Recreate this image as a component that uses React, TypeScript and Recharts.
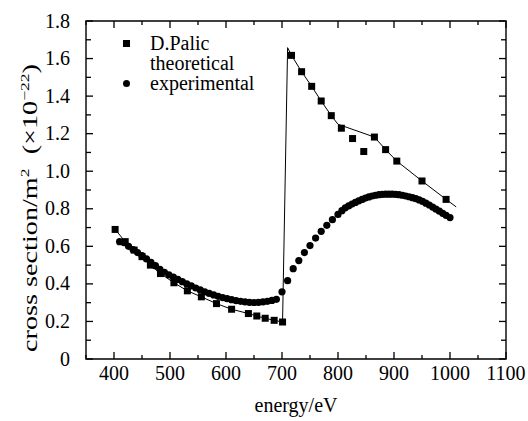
import { Legend, ReferenceArea, Scatter, ScatterChart, XAxis, YAxis } from "recharts";

const FONT = "'Liberation Serif', 'Times New Roman', serif";

// D.Palic theoretical squares (energy in eV, cross section in 1e-22 m^2)
const theoryEnergy = [
  402, 420, 436, 450, 465, 483, 507, 531, 556, 583, 610, 640, 655, 670, 686, 701,
  717, 735, 753, 770, 788, 806, 826, 846, 865, 885, 905, 950, 993,
];
const theoryValue = [
  0.69, 0.625, 0.58, 0.545, 0.5, 0.455, 0.406, 0.363, 0.331, 0.295, 0.265, 0.242, 0.229, 0.217, 0.206, 0.197,
  1.617, 1.53, 1.452, 1.374, 1.296, 1.229, 1.174, 1.105, 1.182, 1.115, 1.054, 0.948, 0.85,
];

// thin line drawn through the theory
const lineEnergy = [
  402, 420, 436, 450, 465, 483, 507, 531, 556, 583, 610, 640, 655, 670, 686, 701,
  710, 717, 735, 753, 770, 788, 800, 865, 885, 905, 950, 993, 1011,
];
const lineValue = [
  0.69, 0.625, 0.58, 0.545, 0.5, 0.455, 0.406, 0.363, 0.331, 0.295, 0.265, 0.242, 0.229, 0.217, 0.206, 0.197,
  1.658, 1.617, 1.53, 1.452, 1.374, 1.296, 1.25, 1.182, 1.115, 1.054, 0.948, 0.85, 0.81,
];

// experimental circles
const expEnergy = [
  410, 418, 426, 434, 442, 450, 458, 466, 474, 482, 490, 498, 506, 514, 522, 530, 538, 546, 554, 562,
  570, 578, 586, 594, 602, 610, 618, 626, 634, 642, 650, 658, 666, 674, 682, 690, 700,
  710, 720, 730, 740, 750, 760, 770, 780, 790, 800, 807, 813, 819, 825, 831, 837, 843, 849, 855,
  861, 867, 873, 879, 885, 891, 897, 903, 909, 915, 921, 927, 933, 939, 945, 951, 957, 963, 969,
  975, 981, 987, 993, 1000,
];
const expValue = [
  0.625, 0.62, 0.6, 0.583, 0.567, 0.55, 0.533, 0.515, 0.497, 0.478, 0.462, 0.448, 0.436, 0.424, 0.412, 0.4,
  0.389, 0.378, 0.368, 0.358, 0.349, 0.341, 0.334, 0.327, 0.321, 0.316, 0.311, 0.307, 0.304, 0.302, 0.301,
  0.302, 0.304, 0.307, 0.312, 0.318, 0.358,
  0.417, 0.481, 0.524, 0.567, 0.604, 0.644, 0.68, 0.712, 0.742, 0.77, 0.79, 0.805, 0.815, 0.825, 0.834,
  0.842, 0.85, 0.857, 0.863, 0.868, 0.872, 0.875, 0.877, 0.878, 0.878, 0.878, 0.877, 0.875, 0.872, 0.868,
  0.864, 0.859, 0.854, 0.847, 0.839, 0.83, 0.82, 0.809, 0.798, 0.787, 0.776, 0.765, 0.753,
];

const xTicks = [350, 400, 450, 500, 550, 600, 650, 700, 750, 800, 850, 900, 950, 1000, 1050, 1100];
const yTicks = [0, 0.1, 0.2, 0.3, 0.4, 0.5, 0.6, 0.7, 0.8, 0.9, 1.0, 1.1, 1.2, 1.3, 1.4, 1.5, 1.6, 1.7, 1.8];

const X_MIN = 350;
const X_MAX = 1100;
const Y_MIN = 0;
const Y_MAX = 1.8;

const toPoints = (xs: number[], ys: number[]) => xs.map((x, i) => ({ x, y: ys[i] }));
const theoryData = toPoints(theoryEnergy, theoryValue);
const lineData = toPoints(lineEnergy, lineValue);
const expData = toPoints(expEnergy, expValue);

const isMajorX = (v: number) => v % 100 === 0;
const isMajorY = (v: number) => Math.round(v * 10) % 2 === 0;

// inward tick marks on all four sides of the box
const frameTicks = [
  ...xTicks.map((t) => ({ x: t, y: Y_MIN, side: "b", major: isMajorX(t) })),
  ...xTicks.map((t) => ({ x: t, y: Y_MAX, side: "t", major: isMajorX(t) })),
  ...yTicks.map((t) => ({ x: X_MIN, y: t, side: "l", major: isMajorY(t) })),
  ...yTicks.map((t) => ({ x: X_MAX, y: t, side: "r", major: isMajorY(t) })),
];

const TW = 1.3;

function TickMark({ cx, cy, payload }: any) {
  if (cx == null || cy == null || !payload) return <g />;
  const { side, major } = payload;
  if (side === "b" || side === "t") {
    const len = major ? 7 : 4;
    return <rect x={cx - TW / 2} y={side === "b" ? cy - len : cy} width={TW} height={len} fill="#000" />;
  }
  const len = major ? 7 : 5;
  return <rect x={side === "l" ? cx : cx - len} y={cy - TW / 2} width={len} height={TW} fill="#000" />;
}

function BottomTick({ x, y, payload }: any) {
  const v = payload.value;
  if (!isMajorX(v) || v < 400) return <g />;
  return (
    <text x={x} y={y + 21} textAnchor="middle" fontFamily={FONT} fontSize={20} fill="#000">
      {v}
    </text>
  );
}

function LeftTick({ x, y, payload }: any) {
  const v = payload.value;
  if (!isMajorY(v)) return <g />;
  return (
    <text x={x - 16} y={y + 6.5} textAnchor="end" fontFamily={FONT} fontSize={20} fill="#000">
      {v === 0 ? "0" : v.toFixed(1)}
    </text>
  );
}

const SquareMark = ({ cx, cy }: any) => <rect x={cx - 3.5} y={cy - 3.5} width={7} height={7} fill="#000" />;
const CircleMark = ({ cx, cy }: any) => <circle cx={cx} cy={cy} r={3.6} fill="#000" />;
const NoMark = () => <g />;

function YLabel() {
  return (
    <text
      transform="rotate(-90, 37, 208)"
      x={37}
      y={208}
      textAnchor="middle"
      fontFamily={FONT}
      fontSize={21}
      fill="#000"
      textLength={288}
      lengthAdjust="spacingAndGlyphs"
    >
      cross section/m<tspan dy={-8} fontSize={13}>2</tspan>
      <tspan dy={8}>{"\u00a0\u00a0(\u00d710"}</tspan>
      <tspan dy={-8} fontSize={13}>{"\u221222"}</tspan>
      <tspan dy={8}>)</tspan>
    </text>
  );
}

function XLabel() {
  return (
    <text x={296} y={412} textAnchor="middle" fontFamily={FONT} fontSize={20} fill="#000">
      energy/eV
    </text>
  );
}

function LegendBox({ payload }: any) {
  const items = (payload || []).filter((p: any) => p.type !== "none");
  return (
    <div style={{ fontFamily: FONT, fontSize: 20, lineHeight: "20px", color: "#000" }}>
      {items.map((p: any) => {
        const lines = String(p.value).split("\n");
        return (
          <div key={p.value} style={{ display: "flex", alignItems: "flex-start" }}>
            <div style={{ width: 27, height: 20, display: "flex", alignItems: "center" }}>
              <div
                style={{
                  width: 7,
                  height: 7,
                  background: "#000",
                  borderRadius: p.type === "circle" ? "50%" : 0,
                }}
              />
            </div>
            <div>
              {lines.map((l) => (
                <div key={l}>{l}</div>
              ))}
            </div>
          </div>
        );
      })}
    </div>
  );
}

export default function App() {
  return (
    <div style={{ position: "absolute", left: 0, top: 0, background: "#fff" }}>
      <ScatterChart width={528} height={421} margin={{ top: 21, right: 22, bottom: 0, left: 0 }}>
        <XAxis
          dataKey="x"
          type="number"
          domain={[X_MIN, X_MAX]}
          ticks={xTicks}
          interval={0}
          height={62}
          tickSize={0}
          tickMargin={0}
          tickLine={false}
          axisLine={false}
          tick={<BottomTick />}
          label={{ content: <XLabel /> }}
        />
        <YAxis
          dataKey="y"
          type="number"
          domain={[Y_MIN, Y_MAX]}
          ticks={yTicks}
          interval={0}
          width={86}
          tickSize={0}
          tickMargin={0}
          tickLine={false}
          axisLine={false}
          tick={<LeftTick />}
          label={{ content: <YLabel /> }}
        />
        <ReferenceArea
          x1={X_MIN}
          x2={X_MAX}
          y1={Y_MIN}
          y2={Y_MAX}
          fill="none"
          fillOpacity={0}
          stroke="#000"
          strokeWidth={1.4}
        />
        <Legend
          layout="horizontal"
          verticalAlign="middle"
          align="center"
          wrapperStyle={{ top: 33, left: 123, width: "auto" }}
          content={<LegendBox />}
        />
        <Scatter
          name="frame ticks"
          data={frameTicks}
          shape={<TickMark />}
          legendType="none"
          isAnimationActive={false}
        />
        <Scatter
          name="theory line"
          data={lineData}
          line={{ stroke: "#000", strokeWidth: 1 }}
          shape={<NoMark />}
          legendType="none"
          isAnimationActive={false}
        />
        <Scatter
          name={"D.Palic\ntheoretical"}
          data={theoryData}
          shape={<SquareMark />}
          legendType="square"
          isAnimationActive={false}
        />
        <Scatter
          name="experimental"
          data={expData}
          shape={<CircleMark />}
          legendType="circle"
          isAnimationActive={false}
        />
      </ScatterChart>
    </div>
  );
}
